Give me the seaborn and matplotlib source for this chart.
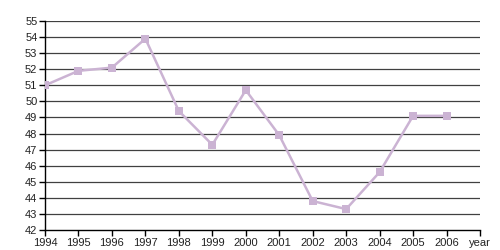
import matplotlib
matplotlib.use("Agg")
import matplotlib.pyplot as plt
import seaborn as sns
import pandas as pd

years = [1994, 1995, 1996, 1997, 1998, 1999, 2000, 2001, 2002, 2003, 2004, 2005, 2006]
values = [51.0, 51.9, 52.1, 53.9, 49.4, 47.3, 50.7, 47.9, 43.8, 43.3, 45.6, 49.1, 49.1]
x_tick_labels = [str(y) for y in years] + ["year"]
y_ticks = list(range(42, 56))

sns.set_theme(style="white")
plt.rcParams['font.family'] = ['Liberation Sans', 'DejaVu Sans']

df = pd.DataFrame({"year": years, "value": values})

fig = plt.figure(figsize=(5, 2.5), dpi=100)
ax = fig.add_axes([0.09, 0.08, 0.87, 0.836])

for y in y_ticks[1:]:
    ax.axhline(y, color="#404040", lw=0.9, zorder=1)

sns.lineplot(data=df, x="year", y="value", ax=ax, color="#CBB3D3", lw=1.8,
             marker="s", markersize=6, markeredgewidth=0, zorder=3)

ax.set_xlim(1994, 2007)
ax.set_ylim(42, 55)
ax.set_xticks(list(range(1994, 2008)))
ax.set_xticklabels(x_tick_labels)
ax.set_yticks(y_ticks)
ax.set_xlabel("")
ax.set_ylabel("")
for s in ["top", "right"]:
    ax.spines[s].set_visible(False)
for s in ["left", "bottom"]:
    ax.spines[s].set_color("black")
    ax.spines[s].set_linewidth(1.0)
ax.tick_params(axis="both", which="major", labelsize=8, length=4, width=1,
               color="black", labelcolor="#222222", pad=1.5, direction="out")
ax.tick_params(axis="x", bottom=True)
ax.tick_params(axis="y", left=True)

fig.savefig("out.png", dpi=100)
